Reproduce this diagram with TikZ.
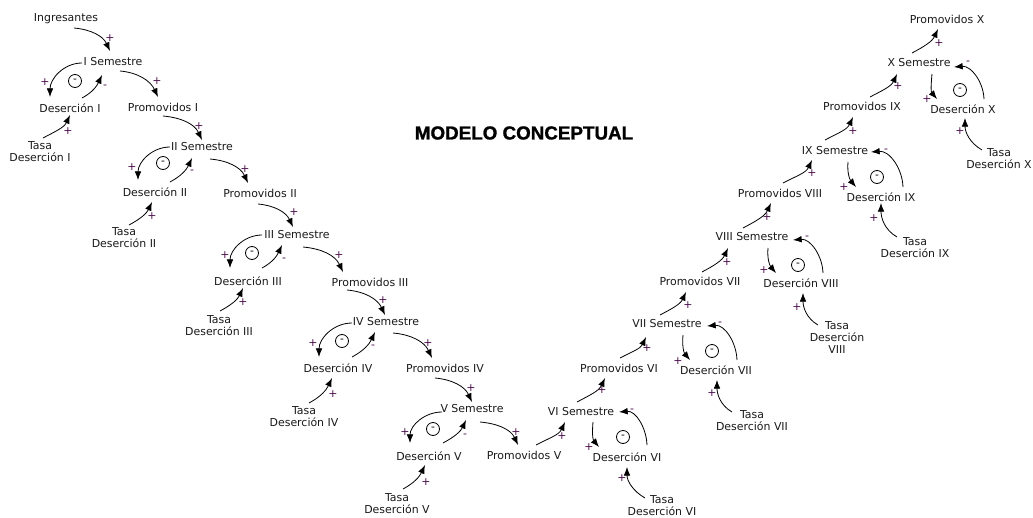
\documentclass[tikz,border=0pt]{standalone}
\usepackage{fontspec}
\setmainfont{DejaVu Sans}
\newfontfamily\titlefont[FakeBold=1.2]{Liberation Sans}
\usetikzlibrary{arrows.meta}
\definecolor{txt}{RGB}{25,25,25}
\definecolor{sgn}{RGB}{75,15,75}
% connector between two nodes, ends shifted from the node centres
\newcommand\cnx[5]{\draw[link] ([shift={(#2)}]#1.center) to[#5] ([shift={(#4)}]#3.center);}
\begin{document}
\begin{tikzpicture}[x=0.75pt,y=0.75pt,
  lbl/.style={font=\fontsize{8.2}{9}\selectfont, text=txt, inner sep=0pt, align=center},
  sg/.style={font=\fontsize{8.2}{9}\selectfont, text=sgn, inner sep=0pt},
  loopmark/.style={circle, draw, line width=0.6pt, minimum size=9.75pt, inner sep=0pt, font=\fontsize{8}{9}\selectfont},
  link/.style={line width=0.6pt, -{Latex[length=6.5pt,width=5pt]}},
  dn/.style={out=-5,in=115},
  up/.style={out=28,in=-115},
  lft/.style={out=180,in=90},
  drop/.style={out=-95,in=130},
  back/.style={out=92,in=5},
  rise/.style={out=150,in=-90}]
\useasboundingbox (0,0) rectangle (1033,-518);

\node[font=\titlefont\fontsize{14.1}{16}\selectfont\bfseries, text=black] (title) at (524,-133) {MODELO CONCEPTUAL};

% descending branch
\node[lbl] (ingr) at (66,-19) {Ingresantes};
\node[lbl] (sem1) at (113,-62) {I Semestre};
\node[lbl] (des1) at (70,-108) {Deserción I};
\node[lbl] (pro1) at (163,-107) {Promovidos I};
\node[lbl] (tasa1) at (40,-152) {Tasa\\Deserción I};

\node[lbl] (sem2) at (202,-147) {II Semestre};
\node[lbl] (des2) at (155,-192) {Deserción II};
\node[lbl] (pro2) at (260,-193) {Promovidos II};
\node[lbl] (tasa2) at (124,-238) {Tasa\\Deserción II};

\node[lbl] (sem3) at (297,-235) {III Semestre};
\node[lbl] (des3) at (248,-281) {Deserción III};
\node[lbl] (pro3) at (370,-282) {Promovidos III};
\node[lbl] (tasa3) at (219,-326) {Tasa\\Deserción III};

\node[lbl] (sem4) at (386,-322) {IV Semestre};
\node[lbl] (des4) at (338,-368) {Deserción IV};
\node[lbl] (pro4) at (445,-368) {Promovidos IV};
\node[lbl] (tasa4) at (304,-417) {Tasa\\Deserción IV};

\node[lbl] (sem5) at (472,-409) {V Semestre};
\node[lbl] (des5) at (429,-456) {Deserción V};
\node[lbl] (pro5) at (524,-455) {Promovidos V};
\node[lbl] (tasa5) at (397,-504) {Tasa\\Deserción V};

% ascending branch
\node[lbl] (sem6) at (581,-412) {VI Semestre};
\node[lbl] (des6) at (627,-457) {Deserción VI};
\node[lbl] (pro6) at (619,-368) {Promovidos VI};
\node[lbl] (tasa6) at (662,-506) {Tasa\\Deserción VI};

\node[lbl] (sem7) at (667,-324) {VII Semestre};
\node[lbl] (des7) at (716,-370) {Deserción VII};
\node[lbl] (pro7) at (700,-281) {Promovidos VII};
\node[lbl] (tasa7) at (752,-421) {Tasa\\Deserción VII};

\node[lbl] (sem8) at (752,-237) {VIII Semestre};
\node[lbl] (des8) at (801,-283) {Deserción VIII};
\node[lbl] (pro8) at (780,-193) {Promovidos VIII};
\node[lbl] (tasa8) at (837,-338) {Tasa\\Deserción\\VIII};

\node[lbl] (sem9) at (835,-151) {IX Semestre};
\node[lbl] (des9) at (881,-197) {Deserción IX};
\node[lbl] (pro9) at (862,-106) {Promovidos IX};
\node[lbl] (tasa9) at (915,-248) {Tasa\\Deserción IX};

\node[lbl] (sem10) at (919,-63) {X Semestre};
\node[lbl] (des10) at (963,-109) {Deserción X};
\node[lbl] (pro10) at (947,-19) {Promovidos X};
\node[lbl] (tasa10) at (999,-159) {Tasa\\Deserción X};

% balancing loop markers
\foreach \x/\y [count=\i] in {75/81,163/163,252/253,342/341,433/429,623/437,712/351,798/265,877/177,960/90}
  \node[loopmark] (loop\i) at (\x,-\y) {-};

% descending connectors
\cnx{ingr}{8,-9}{sem1}{-3,11}{dn}
\cnx{sem1}{7,-9}{pro1}{-5,10}{dn}
\cnx{pro1}{0,-9}{sem2}{0,7}{dn}
\cnx{sem2}{8,-12}{pro2}{-12,10}{dn}
\cnx{pro2}{-2,-11}{sem3}{-4,8}{dn}
\cnx{sem3}{6,-12}{pro3}{-27,10}{dn}
\cnx{pro3}{-23,-8}{sem4}{-1,7}{dn}
\cnx{sem4}{7,-11}{pro4}{-13,10}{dn}
\cnx{pro4}{-10,-10}{sem5}{0,7}{dn}
\cnx{sem5}{8,-13}{pro5}{-6,10}{dn}

\cnx{sem1}{-31,-1}{des1}{-20,11}{lft}
\cnx{sem2}{-32,0}{des2}{-17,12}{lft}
\cnx{sem3}{-35,0}{des3}{-18,13}{lft}
\cnx{sem4}{-34,-1}{des4}{-19,11}{lft}
\cnx{sem5}{-30,-3}{des5}{-19,13}{lft}

\cnx{des1}{12,10}{sem1}{-11,-13}{up}
\cnx{des2}{15,10}{sem2}{-10,-11}{up}
\cnx{des3}{14,13}{sem3}{-15,-10}{up}
\cnx{des4}{14,11}{sem4}{-11,-10}{up}
\cnx{des5}{14,13}{sem5}{-6,-11}{up}

\cnx{tasa1}{3,14}{des1}{0,-7}{up}
\cnx{tasa2}{5,13}{des2}{-3,-10}{up}
\cnx{tasa3}{1,15}{des3}{-5,-7}{up}
\cnx{tasa4}{5,14}{des4}{-6,-10}{up}
\cnx{tasa5}{6,15}{des5}{-4,-9}{up}

% ascending connectors
\cnx{pro5}{12,10}{sem6}{-16,-10}{up}
\cnx{sem6}{-4,10}{pro6}{-14,-10}{up}
\cnx{pro6}{1,10}{sem7}{-21,-13}{up}
\cnx{sem7}{-7,9}{pro7}{-14,-11}{up}
\cnx{pro7}{2,9}{sem8}{-24,-11}{up}
\cnx{sem8}{-9,9}{pro8}{-9,-10}{up}
\cnx{pro8}{3,10}{sem9}{-23,-9}{up}
\cnx{sem9}{-10,11}{pro9}{-9,-11}{up}
\cnx{pro9}{8,9}{sem10}{-22,-11}{up}
\cnx{sem10}{-7,10}{pro10}{-9,-10}{up}

\cnx{sem6}{12,-10}{des6}{-28,10}{drop}
\cnx{sem7}{16,-11}{des7}{-26,10}{drop}
\cnx{sem8}{16,-11}{des8}{-25,10}{drop}
\cnx{sem9}{13,-11}{des9}{-25,10}{drop}
\cnx{sem10}{13,-11}{des10}{-26,10}{drop}

\cnx{des6}{20,12}{sem6}{38,0}{back}
\cnx{des7}{21,10}{sem7}{40,-2}{back}
\cnx{des8}{22,10}{sem8}{41,-3}{back}
\cnx{des9}{22,10}{sem9}{36,-1}{back}
\cnx{des10}{21,10}{sem10}{35,-4}{back}

\cnx{tasa6}{-17,8}{des6}{0,-10}{rise}
\cnx{tasa7}{-20,9}{des7}{1,-10}{rise}
\cnx{tasa8}{-19,13}{des8}{2,-10}{rise}
\cnx{tasa9}{-18,11}{des9}{0,-6}{rise}
\cnx{tasa10}{-17,9}{des10}{2,-9}{rise}

% polarity signs
\foreach \x/\y [count=\i] in {110/38,45/82,68/131,157/81,199/126,
  132/167,152/216,245/169,294/212,
  225/255,243/302,339/255,383/300,
  313/343,333/394,428/343,471/388,
  405/432,426/482,516/432,562/436,
  589/447,622/478,602/390,647/348,
  678/361,712/393,688/305,727/262,
  764/270,797/307,767/217,812/173,
  844/187,874/218,853/131,898/86,
  927/99,960/131,939/43}
  \node[sg] (plus\i) at (\x,-\y) {+};
\foreach \x/\y [count=\i] in {105/87,192/172,284/260,373/347,465/436,632/411,720/324,807/238,886/151,968/63}
  \node[sg] (minus\i) at (\x,-\y) {-};
\end{tikzpicture}
\end{document}
